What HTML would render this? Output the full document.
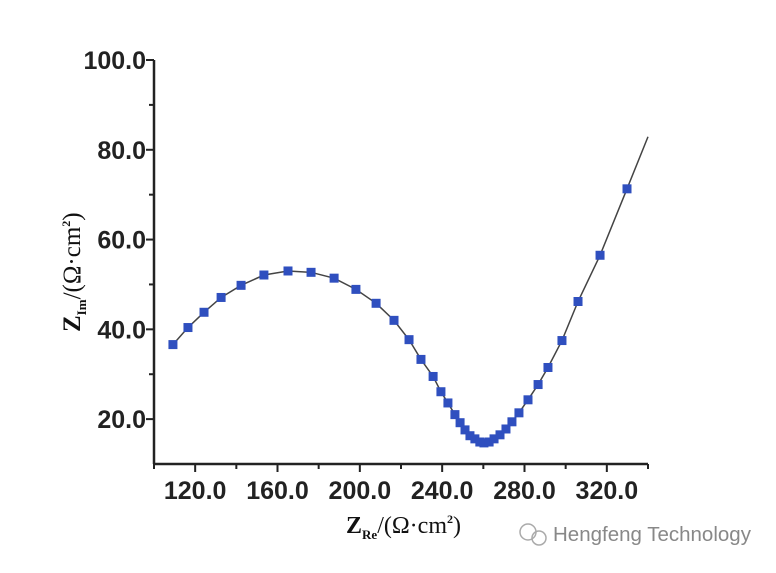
<!DOCTYPE html>
<html><head><meta charset="utf-8"><style>
body{margin:0;background:#fff;width:776px;height:568px;overflow:hidden}
svg text{font-family:"Liberation Sans",Arial,sans-serif}
</style></head><body>
<svg width="776" height="568">
<g id="axes"></g><g id="plot"></g>
<text x="346" y="533" font-weight="bold" font-size="24" fill="#111" style="font-family:'Liberation Serif',serif">Z<tspan font-size="13" dy="6">Re</tspan><tspan dy="-6" font-weight="normal">/(Ω·cm</tspan><tspan font-size="12" dy="-10">2</tspan><tspan dy="10" font-weight="normal">)</tspan></text>
<text transform="translate(80,332) rotate(-90)" font-weight="bold" font-size="25" fill="#111" style="font-family:'Liberation Serif',serif">Z<tspan font-size="13" dy="6">Im</tspan><tspan dy="-6" font-weight="normal">/(Ω·cm</tspan><tspan font-size="12" dy="-10">2</tspan><tspan dy="10" font-weight="normal">)</tspan></text>
<g>
<circle cx="528" cy="532" r="8" fill="none" stroke="#aaa" stroke-width="1.5"/><circle cx="539" cy="538" r="7" fill="none" stroke="#aaa" stroke-width="1.5"/>
<text x="553" y="541" font-size="20.5" fill="#888">Hengfeng Technology</text></g>
</svg>
<script>
const xTicks=[120,160,200,240,280,320];
const yTicks=[20,40,60,80,100];
const zRe=[109.2,116.5,124.3,132.6,142.3,153.4,165.1,176.3,187.5,198.1,207.9,216.6,223.9,229.7,235.6,239.4,242.8,246.2,248.7,251.1,253.5,255.9,258.3,260.3,262.8,265.2,268.1,271,273.9,277.3,281.7,286.6,291.4,298.2,306,316.7,329.8];
const zIm=[36.6,40.4,43.8,47.1,49.8,52.1,53,52.7,51.4,48.9,45.8,42,37.7,33.3,29.5,26.1,23.6,21,19.2,17.6,16.3,15.6,14.9,14.7,14.9,15.6,16.5,17.8,19.4,21.4,24.3,27.7,31.5,37.5,46.2,56.5,71.3];
const fitEnd=[340,82.9];
const NS="http://www.w3.org/2000/svg";
const X0=154,X1=648,Y0=464,Y1=60,xmin=100,xmax=340,ymin=10,ymax=100;
const sx=v=>X0+(v-xmin)/(xmax-xmin)*(X1-X0);
const sy=v=>Y0-(v-ymin)/(ymax-ymin)*(Y0-Y1);
function mk(t,a,p){const e=document.createElementNS(NS,t);for(const k in a)e.setAttribute(k,a[k]);p.appendChild(e);return e;}
const ax=document.getElementById('axes'),pl=document.getElementById('plot');
const xa=mk('line',{x1:X0,y1:Y0,x2:X1,y2:Y0,stroke:'#222','stroke-width':2.5},ax);


const ya=mk('line',{x1:X0,y1:Y0,x2:X0,y2:Y1,stroke:'#222','stroke-width':2.5},ax);


for(let v=xmin;v<=xmax;v+=20){const major=xTicks.includes(v);mk('line',{x1:sx(v),y1:Y0,x2:sx(v),y2:Y0+(major?8:5),stroke:'#222','stroke-width':2},ax);}
xTicks.forEach(v=>{const t=mk('text',{x:sx(v),y:Y0+35,'text-anchor':'middle','font-size':25,'font-weight':'bold',fill:'#222'},ax);t.textContent=v.toFixed(1);

});
for(let v=20;v<=ymax;v+=10){const major=yTicks.includes(v);mk('line',{x1:X0,y1:sy(v),x2:X0-(major?8:5),y2:sy(v),stroke:'#222','stroke-width':2},ax);}
yTicks.forEach(v=>{const t=mk('text',{x:X0-8,y:sy(v)+9,'text-anchor':'end','font-size':25,'font-weight':'bold',fill:'#222'},ax);t.textContent=v.toFixed(1);

});
let d=zRe.map((v,i)=>(i?'L':'M')+sx(v)+','+sy(zIm[i])).join('')+'L'+sx(fitEnd[0])+','+sy(fitEnd[1]);
const ln=mk('path',{d:d,fill:'none',stroke:'#444','stroke-width':1.5},pl);


zRe.forEach((v,i)=>{const r=mk('rect',{x:sx(v)-4.5,y:sy(zIm[i])-4.5,width:9,height:9,fill:'#2f4fbf'},pl);

});
</script>
</body></html>
